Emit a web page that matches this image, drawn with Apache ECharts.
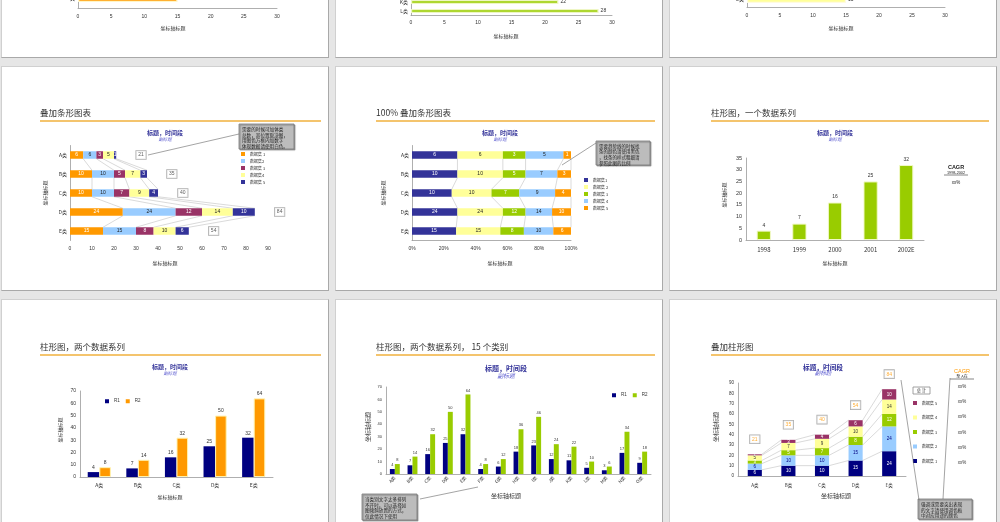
<!DOCTYPE html>
<html><head><meta charset="utf-8">
<script src="https://cdn.jsdelivr.net/npm/echarts@6/dist/echarts.min.js"></script>
<style>
html,body{margin:0;padding:0}
body{width:1000px;height:522px;overflow:hidden;position:relative;background:#e6e6e6}
.slide{position:absolute;width:328px;height:225px;background:#fff;box-sizing:border-box;border:1px solid #d0d0d0;border-right-color:#a9a9a9;border-bottom-color:#a9a9a9}
.chart{position:absolute;width:328px;height:225px}
</style></head><body>
<script>
// ---------------- DATA ----------------
const top1Cats = ['E类'];            const top1Vals = [15];
const top2Cats = ['K类', 'L类'];     const top2Vals = [22, 28];
const top3Cats = ['E类'];            const top3Vals = [15];

const stackCats = ['A类', 'B类', 'C类', 'D类', 'E类'];
const set1 = [6, 10, 10, 24, 15];
const set2 = [6, 10, 10, 24, 15];
const set3 = [3, 5, 7, 12, 8];
const set4 = [5, 7, 9, 14, 10];
const set5 = [1, 3, 4, 10, 6];

const years = ['1998', '1999', '2000', '2001', '2002E'];
const yearVals = [4, 7, 16, 25, 32];

const twoCats = ['A类', 'B类', 'C类', 'D类', 'E类'];
const r1 = [4, 7, 16, 25, 32];
const r2 = [8, 14, 32, 50, 64];

const cats15 = ['A类','B类','C类','D类','E类','F类','G类','H类','I类','J类','K类','L类','M类','N类','O类'];
const r1_15 = [4, 7, 16, 25, 32, 4, 6, 18, 23, 12, 11, 5, 3, 17, 9];
const r2_15 = [8, 14, 32, 50, 64, 8, 12, 36, 46, 24, 22, 10, 6, 34, 18];

const colCats = ['A类', 'B类', 'C类', 'D类', 'E类'];
const col1 = [6, 10, 10, 15, 24];
const col2 = [6, 10, 10, 15, 24];
const col3 = [3, 5, 7, 8, 12];
const col4 = [5, 7, 9, 10, 14];
const col5 = [1, 3, 4, 6, 10];
const cagrVals = ['xx%', 'xx%', 'xx%', 'xx%', 'xx%', 'xx%'];

// ---------------- STYLE / LAYOUT ----------------
const COLS = [1, 335, 669], ROWS = [-167, 66, 299];
const FONT = '"Liberation Sans","Noto Sans CJK SC",sans-serif';
const CJK = '"Noto Sans CJK SC","Liberation Sans",sans-serif';
const NAVY = '#000080', INDIGO = '#333399', ORANGE = '#ff9900', LBLUE = '#99ccff',
      MAROON = '#993366', LYELLOW = '#ffff99', GREEN = '#99cc00';

function place(col, row, option) {
  const x = COLS[col], y = ROWS[row];
  const s = document.createElement('div'); s.className = 'slide';
  s.style.left = x + 'px'; s.style.top = y + 'px'; document.body.appendChild(s);
  const c = document.createElement('div'); c.className = 'chart';
  c.style.left = x + 'px'; c.style.top = y + 'px'; document.body.appendChild(c);
  const ch = echarts.init(c, null, {renderer: 'canvas', devicePixelRatio: 1});
  option.animation = false;
  ch.setOption(option);
}
function T(x, y, text, fs, fill, extra, rot) {
  return {type: 'text', silent: true, x: x, y: y, rotation: rot || 0, z: 10,
    style: Object.assign({text: text, fontSize: fs, fill: fill || '#333', fontFamily: CJK,
      align: 'center', verticalAlign: 'middle'}, extra || {})};
}
function L(x1, y1, x2, y2, color, w) {
  return {type: 'line', silent: true, z: 10, shape: {x1, y1, x2, y2}, style: {stroke: color || '#666', lineWidth: w || 0.6}};
}
function header(title, tx, ty, lineY, cx, cy, cfs, sy, sfs) {
  return [
    T(tx, ty, title, 8.5, '#333', {align: 'left'}),
    L(tx, lineY, 320, lineY, '#f0b13c', 1.3),
    T(cx, cy, '标题，时间段', cfs, INDIGO, {fontWeight: 'bold'}),
    T(cx, sy, '副标题', sfs, '#5c5cd0', {fontStyle: 'italic'})
  ];
}
function callout(x, y, w, h, lines, fs) {
  return [
    {type: 'rect', silent: true, z: 9, shape: {x, y, width: w, height: h},
     style: {fill: '#bcbcbc', stroke: '#7a7a7a', lineWidth: 0.8, shadowColor: 'rgba(0,0,0,0.35)', shadowOffsetX: 1, shadowOffsetY: 1, shadowBlur: 1}},
    {type: 'text', silent: true, z: 10, x: x + 3, y: y + 2,
     style: {text: lines.join('\n'), fontSize: fs, lineHeight: fs * 1.28, fill: '#222', fontFamily: CJK, align: 'left', verticalAlign: 'top'}}
  ];
}
function vAxis(min, max, iv, fs, margin, line, fmt) {
  return {type: 'value', min, max, interval: iv, splitLine: {show: false},
    axisLine: {show: line, lineStyle: {color: '#9a9a9a', width: 0.8}}, axisTick: {show: false},
    axisLabel: {fontSize: fs, color: '#333', fontFamily: FONT, margin: margin, formatter: fmt || '{value}'}};
}
function cAxis(data, fs, margin, inverse, rotate) {
  return {type: 'category', data, inverse: !!inverse,
    axisLine: {show: true, lineStyle: {color: '#9a9a9a', width: 0.8}}, axisTick: {show: false},
    axisLabel: {fontSize: fs, color: '#333', fontFamily: CJK, margin: margin, rotate: rotate || 0, interval: 0}};
}
function legendV(names, left, top, gap, fs) {
  return {orient: 'vertical', left, top, itemWidth: 4, itemHeight: 4, itemGap: gap, padding: 0, icon: 'rect',
    itemStyle: {borderWidth: 0},
    data: names, textStyle: {fontSize: fs || 4, color: '#333', lineHeight: 4, fontFamily: CJK}};
}
function legendH(left, top) {
  return {left, top, itemWidth: 4, itemHeight: 4, itemGap: 6, padding: 0, icon: 'rect',
    itemStyle: {borderWidth: 0},
    textStyle: {fontSize: 4.5, color: '#333', lineHeight: 4, fontFamily: FONT}};
}
function cumulate(sets) { return sets[0].map((_, i) => { let a = 0; return sets.map(s => a += s[i]); }); }
function seriesLinesH(cum, bw) {
  return {type: 'custom', silent: true, z: 1, clip: false, encode: {x: 0, y: 1},
    data: cum.slice(0, -1).map((c, i) => [0, i]),
    renderItem: (p, api) => {
      const i = api.value(1), ch = [];
      for (let k = 0; k < cum[i].length; k++) {
        const a = api.coord([cum[i][k], i]), b = api.coord([cum[i + 1][k], i + 1]);
        ch.push({type: 'line', shape: {x1: a[0], y1: a[1] + bw / 2, x2: b[0], y2: b[1] - bw / 2}, style: {stroke: '#b5b5b5', lineWidth: 0.5}});
      }
      return {type: 'group', children: ch};
    }};
}
function seriesLinesV(cum, bwFrac) {
  return {type: 'custom', silent: true, z: 1, clip: false, encode: {x: 0, y: 1},
    data: cum.slice(0, -1).map((c, i) => [i, 0]),
    renderItem: (p, api) => {
      const i = api.value(0), ch = [];
      const bw = api.size([1, 0])[0] * bwFrac;
      for (let k = 0; k < cum[i].length; k++) {
        const a = api.coord([i, cum[i][k]]), b = api.coord([i + 1, cum[i + 1][k]]);
        ch.push({type: 'line', shape: {x1: a[0] + bw / 2, y1: a[1], x2: b[0] - bw / 2, y2: b[1]}, style: {stroke: '#b5b5b5', lineWidth: 0.5}});
      }
      return {type: 'group', children: ch};
    }};
}

// ---------------- TOP ROW (partially visible) ----------------
function topSlide(col, cats, vals, grid, bw, color, border, titleX, titleY, lblMargin) {
  place(col, 0, {
    grid: grid,
    xAxis: vAxis(0, 30, 5, 5, lblMargin, true),
    yAxis: cAxis(cats, 5, 3, true),
    series: [{type: 'bar', data: vals, barWidth: bw,
      itemStyle: {color: color, borderColor: border, borderWidth: 1.2},
      label: {show: true, position: 'right', distance: 2, fontSize: 5, color: '#333', fontFamily: FONT}}],
    graphic: [T(titleX, titleY, '坐标轴标题', 5)]
  });
}
topSlide(0, top1Cats, top1Vals, {left: 77, top: 156, width: 199, height: 19}, 7, ORANGE, '#fff6c8', 172, 195, 6);
topSlide(1, top2Cats, top2Vals, {left: 76, top: 164.5, width: 201, height: 18}, 4, GREEN, '#eef6c4', 171, 203, 4.5);
topSlide(2, top3Cats, top3Vals, {left: 78, top: 159, width: 198, height: 15}, 7, LYELLOW, '#fffbe0', 172, 195, 6);

// ---------------- 叠加条形图表 ----------------
(function () {
  const sets = [set1, set2, set3, set4, set5];
  const names = ['数据集 1', '数据集2', '数据集 3', '数据集4', '数据集 5'];
  const colors = [ORANGE, LBLUE, MAROON, LYELLOW, INDIGO];
  const labc = ['#fff', '#222', '#fff', '#222', '#fff'];
  const cum = cumulate(sets), totals = cum.map(c => c[c.length - 1]);
  const BW = 7.5;
  const xa = vAxis(0, 90, 10, 5, 6, false);
  place(0, 1, {
    grid: {left: 69, top: 79.5, width: 198, height: 95},
    xAxis: xa,
    yAxis: cAxis(stackCats, 5, 3, true),
    legend: legendV(names, 240, 86, 3),
    series: sets.map((d, k) => ({type: 'bar', name: names[k], stack: 's', data: d, barWidth: BW,
      itemStyle: {color: colors[k]},
      label: {show: true, position: 'inside', fontSize: 5, color: labc[k], fontFamily: FONT}}))
      .concat([
        {type: 'scatter', data: totals.map((t, i) => [t, i]), symbolSize: 0.1, itemStyle: {color: 'transparent'},
         label: {show: true, position: 'right', distance: 20, formatter: p => p.value[0], fontSize: 5, color: '#333',
           fontFamily: FONT, backgroundColor: '#fff', borderColor: '#9a9a9a', borderWidth: 0.8, padding: [1.5, 2]}},
        seriesLinesH(cum, BW)
      ]),
    graphic: header('叠加条形图表', 39, 47, 55, 164, 67, 6, 73, 4.4).concat([
      T(164, 197, '坐标轴标题', 5),
      T(44, 127, '坐标轴标题', 5, '#333', {}, Math.PI / 2),
      L(238, 68, 147, 89, '#666', 0.6)
    ]).concat(callout(238, 58, 55, 25, ['需要的时候可加体类', '总数，其位置取决图，', '用图色方框内加数字', '体现数据请使用白色。'], 4.6))
  });
})();

// ---------------- 100% 叠加条形图表 ----------------
(function () {
  const sets = [set1, set2, set3, set4, set5];
  const names = ['数据集1', '数据集 2', '数据集 3', '数据集 4', '数据集 5'];
  const colors = [INDIGO, LYELLOW, GREEN, LBLUE, ORANGE];
  const labc = ['#fff', '#222', '#fff', '#222', '#fff'];
  const totals = stackCats.map((_, i) => sets.reduce((a, s) => a + s[i], 0));
  const pct = sets.map(s => s.map((v, i) => v / totals[i] * 100));
  const cum = cumulate(pct);
  const BW = 7.5;
  place(1, 1, {
    grid: {left: 77, top: 79.5, width: 159, height: 95},
    xAxis: vAxis(0, 100, 20, 5, 6, true, '{value}%'),
    yAxis: cAxis(stackCats, 5, 3, true),
    legend: legendV(names, 249, 112, 3),
    series: pct.map((d, k) => ({type: 'bar', name: names[k], stack: 's', data: d, barWidth: BW,
      itemStyle: {color: colors[k]},
      label: {show: true, position: 'inside', fontSize: 5, color: labc[k], fontFamily: FONT, formatter: p => sets[k][p.dataIndex]}}))
      .concat([seriesLinesH(cum, BW)]),
    graphic: header('100% 叠加条形图表', 41, 47, 55, 165, 67, 6, 73, 4.4).concat([
      T(165, 197, '坐标轴标题', 5),
      T(48, 127, '坐标轴标题', 5, '#333', {}, Math.PI / 2),
      L(261, 77, 227, 99, '#666', 0.6)
    ]).concat(callout(261, 75, 54, 24, ['需要趋势线的时候找', '条的颜色请使用黑色', '，找条的样式粗细请', '参照此图的比例'], 4.5))
  });
})();

// ---------------- 柱形图，一个数据系列 ----------------
(function () {
  place(2, 1, {
    grid: {left: 77, top: 92, width: 178, height: 82},
    xAxis: cAxis(years, 6, 7),
    yAxis: vAxis(0, 35, 5, 5.5, 4, true),
    series: [{type: 'bar', data: yearVals, barWidth: '40%',
      itemStyle: {color: GREEN, borderColor: '#f2f9c8', borderWidth: 1},
      label: {show: true, position: 'top', distance: 3, fontSize: 5, color: '#333', fontFamily: FONT}}],
    graphic: header('柱形图，一个数据系列', 42, 47, 55, 166, 67, 6, 73, 4.4).concat([
      T(166, 197, '坐标轴标题', 5),
      T(55, 129, '坐标轴标题', 5, '#333', {}, Math.PI / 2),
      T(287, 101, 'CAGR', 5.5, '#222', {fontWeight: 'bold', fontFamily: FONT}),
      T(287, 106.5, '1998-2002', 3.8, '#222', {fontFamily: FONT}),
      L(275, 109, 299, 109, '#333', 0.6),
      T(287, 117, cagrVals[0], 4.5, '#222', {fontFamily: FONT})
    ])
  });
})();

// ---------------- 柱形图，两个数据系列 ----------------
(function () {
  place(0, 2, {
    grid: {left: 79, top: 92, width: 193, height: 86},
    xAxis: cAxis(twoCats, 5, 6),
    yAxis: vAxis(0, 70, 10, 5, 4, true),
    legend: legendH(104, 100),
    series: [
      {type: 'bar', name: 'R1', data: r1, barWidth: '30%', barGap: '0%', itemStyle: {color: NAVY},
       label: {show: true, position: 'top', distance: 2, fontSize: 5, color: '#333', fontFamily: FONT}},
      {type: 'bar', name: 'R2', data: r2, barWidth: '30%', barGap: '0%', itemStyle: {color: ORANGE, borderColor: '#fff3b0', borderWidth: 1},
       label: {show: true, position: 'top', distance: 2, fontSize: 5, color: '#333', fontFamily: FONT}}
    ],
    graphic: header('柱形图，两个数据系列', 39, 48, 56, 169, 68, 6, 74, 4.4).concat([
      T(169, 198, '坐标轴标题', 5),
      T(59, 131, '坐标轴标题', 5, '#333', {}, Math.PI / 2)
    ])
  });
})();

// ---------------- 柱形图，两个数据系列，15 个类别 ----------------
(function () {
  place(1, 2, {
    grid: {left: 51, top: 88, width: 265, height: 87},
    xAxis: cAxis(cats15, 4.5, 3, false, 45),
    yAxis: vAxis(0, 70, 10, 4, 4, true),
    legend: legendH(277, 94),
    series: [
      {type: 'bar', name: 'R1', data: r1_15, barWidth: '28%', barGap: '0%', itemStyle: {color: NAVY},
       label: {show: true, position: 'top', distance: 2, fontSize: 4, color: '#333', fontFamily: FONT}},
      {type: 'bar', name: 'R2', data: r2_15, barWidth: '28%', barGap: '0%', itemStyle: {color: GREEN},
       label: {show: true, position: 'top', distance: 2, fontSize: 4, color: '#333', fontFamily: FONT}}
    ],
    graphic: header('柱形图，两个数据系列， 15 个类别', 41, 48, 56, 171, 69, 7, 77, 5.8).concat([
      T(171, 197, '坐标轴标题', 6),
      T(33, 128, '坐标轴标题', 6, '#333', {}, Math.PI / 2),
      L(85, 200, 143, 188, '#666', 0.6)
    ]).concat(callout(27, 195, 55, 26, ['当类别文字太多排列', '不开时，可以选择如', '图倾斜放置的方式，', '仅此情况下使用'], 4.6))
  });
})();

// ---------------- 叠加柱形图 ----------------
(function () {
  const sets = [col1, col2, col3, col4, col5];
  const names = ['数据集 1', '数据集 2', '数据集 3', '数据集 4', '数据集 5'];
  const colors = [NAVY, LBLUE, GREEN, LYELLOW, MAROON];
  const labc = ['#fff', NAVY, '#fff', '#333', '#fff'];
  const cum = cumulate(sets), totals = cum.map(c => c[c.length - 1]);
  const BWF = 0.42;
  const cagrTexts = cagrVals.map((v, i) => T(293, 88 + i * 15.1, v, 4.5, '#333', {fontFamily: FONT}));
  place(2, 2, {
    grid: {left: 69, top: 84, width: 168, height: 93},
    xAxis: cAxis(colCats, 4.5, 7),
    yAxis: vAxis(0, 90, 10, 4.5, 4, true),
    legend: legendV(names.slice().reverse(), 244, 102, 10.5, 4),
    series: sets.map((d, k) => ({type: 'bar', name: names[k], stack: 's', data: d, barWidth: (BWF * 100) + '%',
      itemStyle: {color: colors[k]},
      label: {show: true, position: 'inside', fontSize: 4.5, color: labc[k], fontFamily: FONT}}))
      .concat([
        {type: 'scatter', data: totals.map((t, i) => [i, t]), symbolSize: 0.1, itemStyle: {color: 'transparent'},
         label: {show: true, position: 'top', distance: 11, formatter: p => p.value[1], fontSize: 5, color: ORANGE,
           fontFamily: FONT, backgroundColor: '#fff', borderColor: '#9a9a9a', borderWidth: 0.8, padding: [1.5, 2]}},
        seriesLinesV(cum, BWF)
      ]),
    graphic: header('叠加柱形图', 42, 48, 56, 154, 68, 6.7, 74, 5.5).concat([
      T(167, 197, '坐标轴标题', 6),
      T(47, 128, '坐标轴标题', 6, '#333', {}, Math.PI / 2),
      {type: 'rect', silent: true, z: 9, shape: {x: 244, y: 88, width: 17, height: 7}, style: {fill: '#fff', stroke: '#8a8a8a', lineWidth: 0.8}},
      T(252.5, 91.5, '总 计', 4.2, '#333'),
      T(293, 72, 'CAGR', 5.5, ORANGE, {fontFamily: FONT}),
      T(293, 77, '至 A在', 4, '#333'),
      L(281, 80, 305, 80, '#333', 0.6),
      L(232, 81, 250, 201, '#666', 0.6),
      L(281, 79, 274, 200, '#666', 0.6)
    ]).concat(cagrTexts).concat(callout(249, 200, 54, 20, ['强调或需要突出表现', '的文字请使用调色板', '中对应用途的颜色'], 4.6))
  });
})();
</script>
</body></html>
